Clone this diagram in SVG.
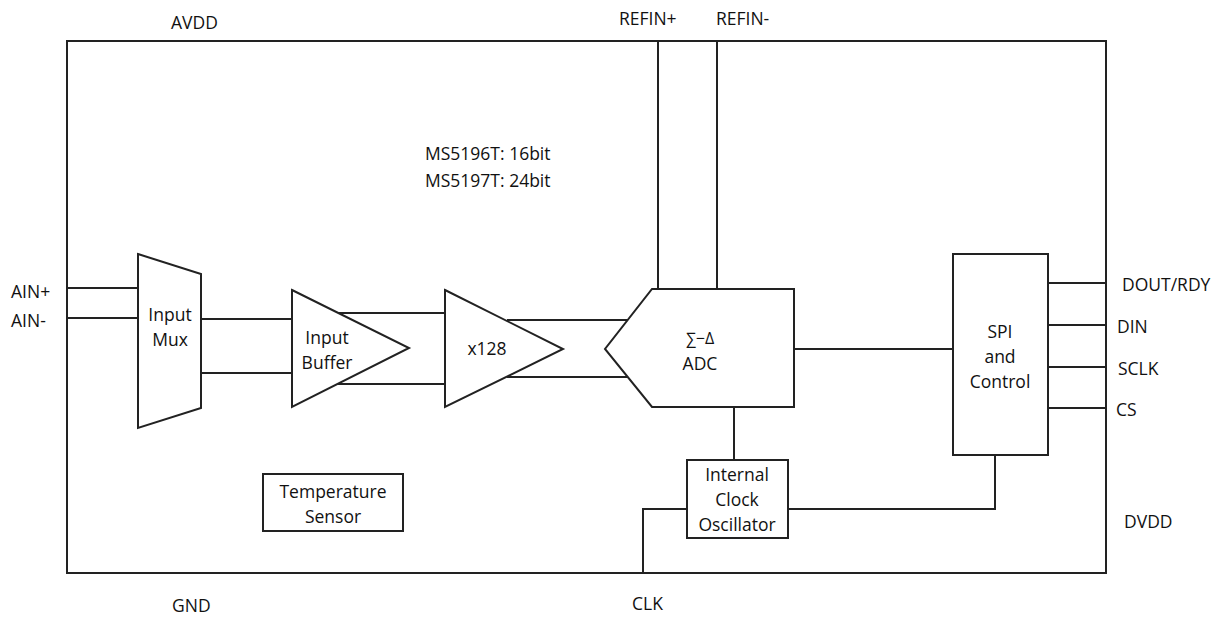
<svg xmlns="http://www.w3.org/2000/svg" width="1225" height="619" viewBox="0 0 1225 619">
<style>
.s{fill:#fff;stroke:#222;stroke-width:2}
.w{fill:none;stroke:#222;stroke-width:2}
text{font-family:"Open Sans","Noto Sans",sans-serif;font-size:17.5px;fill:#111}
.c{text-anchor:middle}
</style>
<rect width="1225" height="619" fill="#fff"/>
<g id="chip">
<rect class="w" x="67" y="41" width="1039" height="532"/>
</g>
<g id="connectors">
<path class="w" d="M658 41V289M717 41V289"/>
<path class="w" d="M67 288H138M67 318H138"/>
<path class="w" d="M201 319H292M201 373H292"/>
<path class="w" d="M338 313H445M338 384H445"/>
<path class="w" d="M507 320H628M507 377H628"/>
<path class="w" d="M794 349H953"/>
<path class="w" d="M734 407V460"/>
<path class="w" d="M788 509H995V455"/>
<path class="w" d="M687 509H643V573"/>
<path class="w" d="M1048 283H1106M1048 325H1106M1048 367H1106M1048 408H1106"/>
</g>
<g id="input-mux">
<polygon class="s" points="138,254 201,274 201,408 138,428"/>
<text class="c" x="170" y="321">Input</text>
<text class="c" x="170" y="346">Mux</text>
</g>
<g id="input-buffer">
<polygon class="s" points="292,290 409,348 292,407"/>
<text class="c" x="327" y="344">Input</text>
<text class="c" x="327" y="369">Buffer</text>
</g>
<g id="pga">
<polygon class="s" points="445,290 563,349 445,407"/>
<text class="c" x="487" y="355">x128</text>
</g>
<path class="w" d="M338 313H380M338 384H380M507 320H560M507 377H560"/>
<g id="adc">
<polygon class="s" points="652,289 794,289 794,407 652,407 605,349"/>
<text class="c" x="700" y="344" style="font-size:16px">∑−Δ</text>
<text class="c" x="700" y="370">ADC</text>
</g>
<g id="spi">
<rect class="s" x="953" y="254" width="95" height="201"/>
<text class="c" x="1000" y="338">SPI</text>
<text class="c" x="1000" y="363">and</text>
<text class="c" x="1000" y="388">Control</text>
</g>
<g id="clock">
<rect class="s" x="687" y="460" width="101" height="78"/>
<text class="c" x="737" y="481">Internal</text>
<text class="c" x="737" y="506">Clock</text>
<text class="c" x="737" y="531">Oscillator</text>
</g>
<g id="temp">
<rect class="s" x="263" y="474" width="140" height="57"/>
<text class="c" x="333" y="498">Temperature</text>
<text class="c" x="333" y="523">Sensor</text>
</g>
<g id="labels">
<text x="171" y="29">AVDD</text>
<text x="172" y="612">GND</text>
<text x="619" y="25">REFIN+</text>
<text x="716" y="25">REFIN-</text>
<text x="11" y="298">AIN+</text>
<text x="11" y="327">AIN-</text>
<text x="1122" y="291">DOUT/RDY</text>
<text x="1117" y="333">DIN</text>
<text x="1118" y="375">SCLK</text>
<text x="1116" y="416">CS</text>
<text x="1124" y="528">DVDD</text>
<text x="632" y="610">CLK</text>
<text x="425" y="160">MS5196T: 16bit</text>
<text x="425" y="187">MS5197T: 24bit</text>
</g>
</svg>
